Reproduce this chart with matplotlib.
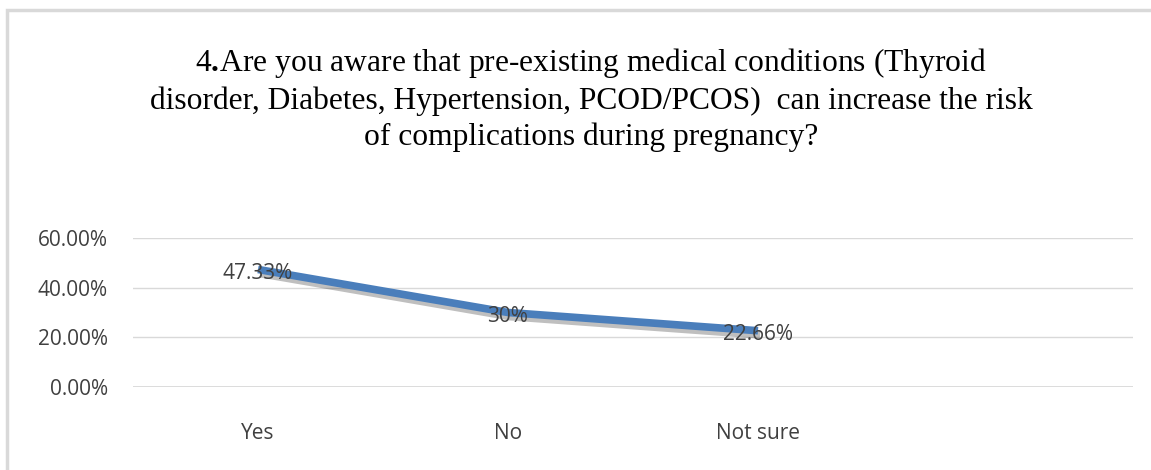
import matplotlib
matplotlib.use("Agg")
import matplotlib.pyplot as plt
import matplotlib.patheffects as pe
from matplotlib.patches import Rectangle

plt.rcParams["mathtext.fontset"] = "custom"
plt.rcParams["mathtext.rm"] = "Liberation Serif"
plt.rcParams["mathtext.bf"] = "Liberation Serif:bold"

categories = ["Yes", "No", "Not sure", ""]
values = [47.33, 30.0, 22.66]
value_labels = ["47.33%", "30%", "22.66%"]
yticks = [0, 20, 40, 60]
ytick_labels = ["0.00%", "20.00%", "40.00%", "60.00%"]
title = ("4$\\mathbf{.}\\!$Are you aware that pre-existing medical conditions (Thyroid\n"
         "disorder, Diabetes, Hypertension, PCOD/PCOS)  can increase the risk\n"
         "of complications during pregnancy?")

W, H = 1151, 470
fig = plt.figure(figsize=(W/100, H/100), dpi=100)
fig.patch.set_facecolor("white")

# outer frame
fig.add_artist(Rectangle((7/W, -0.1), 1.2, (H-10)/H + 0.1, transform=fig.transFigure,
                         fill=False, edgecolor="#d9d9d9", linewidth=2.5))

ax = fig.add_axes([133/W, 1-387/H, 1000/W, (387-238)/H])
ax.set_xlim(-0.5, 3.5)
ax.set_ylim(0, 60)
for s in ax.spines.values():
    s.set_visible(False)
ax.set_yticks(yticks)
ax.set_yticklabels(ytick_labels)
ax.grid(axis="y", color="#d9d9d9", linewidth=1)
ax.axhline(0, color="#d9d9d9", linewidth=2)
ax.set_axisbelow(True)
ax.set_xticks(range(len(categories)))
ax.set_xticklabels(categories)
ax.tick_params(length=0, labelsize=15, colors="#404040")
ax.tick_params(axis="y", pad=18)
ax.tick_params(axis="x", pad=26)
for lab in ax.get_xticklabels() + ax.get_yticklabels():
    lab.set_family("Open Sans")

x = list(range(len(values)))
ax.plot(x, values, color="#4a7ebb", linewidth=5.5, solid_capstyle="butt",
        path_effects=[pe.SimpleLineShadow(offset=(1.5, -3), shadow_color="black", alpha=0.25),
                      pe.Normal()])
for xi, v, t in zip(x, values, value_labels):
    ax.text(xi, v - 1.5, t, ha="center", va="center", fontsize=15,
            color="#404040", family="Open Sans")

fig.text(591/W, 1-99/H, title, ha="center", va="center", fontsize=22.7,
         family="Liberation Serif", linespacing=1.28, color="black")

fig.savefig("out.png", dpi=100)
